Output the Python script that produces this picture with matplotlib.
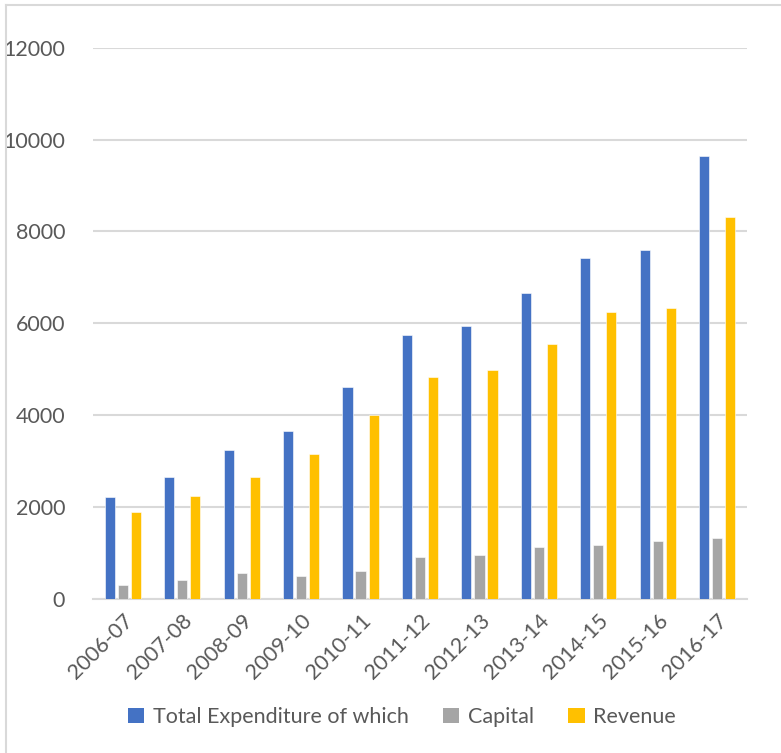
import matplotlib
matplotlib.use("Agg")
import matplotlib.pyplot as plt
from matplotlib.lines import Line2D
from matplotlib.patches import Patch
import numpy as np

years = ["2006-07", "2007-08", "2008-09", "2009-10", "2010-11", "2011-12",
         "2012-13", "2013-14", "2014-15", "2015-16", "2016-17"]
total_expenditure = [2220, 2655, 3240, 3665, 4610, 5740, 5950, 6670, 7420, 7600, 9650]
capital = [310, 405, 565, 490, 600, 905, 955, 1125, 1175, 1260, 1320]
revenue = [1895, 2240, 2660, 3155, 3995, 4830, 4995, 5545, 6250, 6345, 8320]
series_names = ["Total Expenditure of which", "Capital", "Revenue"]
y_ticks = [0, 2000, 4000, 6000, 8000, 10000, 12000]

colors = ["#4472C4", "#A5A5A5", "#FFC000"]
text_color = "#595959"
grid_color = "#D9D9D9"

plt.rcParams["font.family"] = ["Lato", "DejaVu Sans"]

W, H = 781, 753
fig = plt.figure(figsize=(W / 100, H / 100), dpi=100)
ax = fig.add_axes([93 / W, (H - 599) / H, (747 - 93) / W, (599 - 47.7) / H])

x = np.arange(len(years))
bw = 0.17
offset = 0.22
for i, (vals, c) in enumerate(zip([total_expenditure, capital, revenue], colors)):
    ax.bar(x + (i - 1) * offset, vals, width=bw, color=c, zorder=3,
           edgecolor="white", linewidth=0.4)

ax.set_xlim(-0.5, len(years) - 0.5)
ax.set_ylim(0, 12000)
ax.set_yticks(y_ticks)
ax.set_yticklabels([str(v) for v in y_ticks])
ax.yaxis.grid(True, color=grid_color, linewidth=1.5, zorder=0)
ax.tick_params(axis="y", length=0, pad=20, labelsize=15.5, labelcolor=text_color)
ax.tick_params(axis="x", length=0, pad=8, labelsize=15.5, labelcolor=text_color)
ax.set_xticks(x)
ax.set_xticklabels(years, rotation=45, ha="right", rotation_mode="anchor")
for side in ["top", "right", "left"]:
    ax.spines[side].set_visible(False)
ax.spines["bottom"].set_color(grid_color)
ax.spines["bottom"].set_linewidth(1.5)

handles = [Patch(facecolor=c, edgecolor="none") for c in colors]
fig.legend(handles, series_names, loc="center", bbox_to_anchor=(402 / W, (H - 717) / H),
           ncol=3, frameon=False, fontsize=15.5, labelcolor=text_color,
           handlelength=0.75, handleheight=0.75, handletextpad=0.4, columnspacing=1.6)

# chart area border (left and top edges)
bx, by = 6 / W, (H - 5) / H
fig.add_artist(Line2D([bx, bx], [0, by], transform=fig.transFigure,
                      color=grid_color, linewidth=1.5))
fig.add_artist(Line2D([bx, 1], [by, by], transform=fig.transFigure,
                      color=grid_color, linewidth=1.5))

fig.savefig("out.png", dpi=100, facecolor="white")
